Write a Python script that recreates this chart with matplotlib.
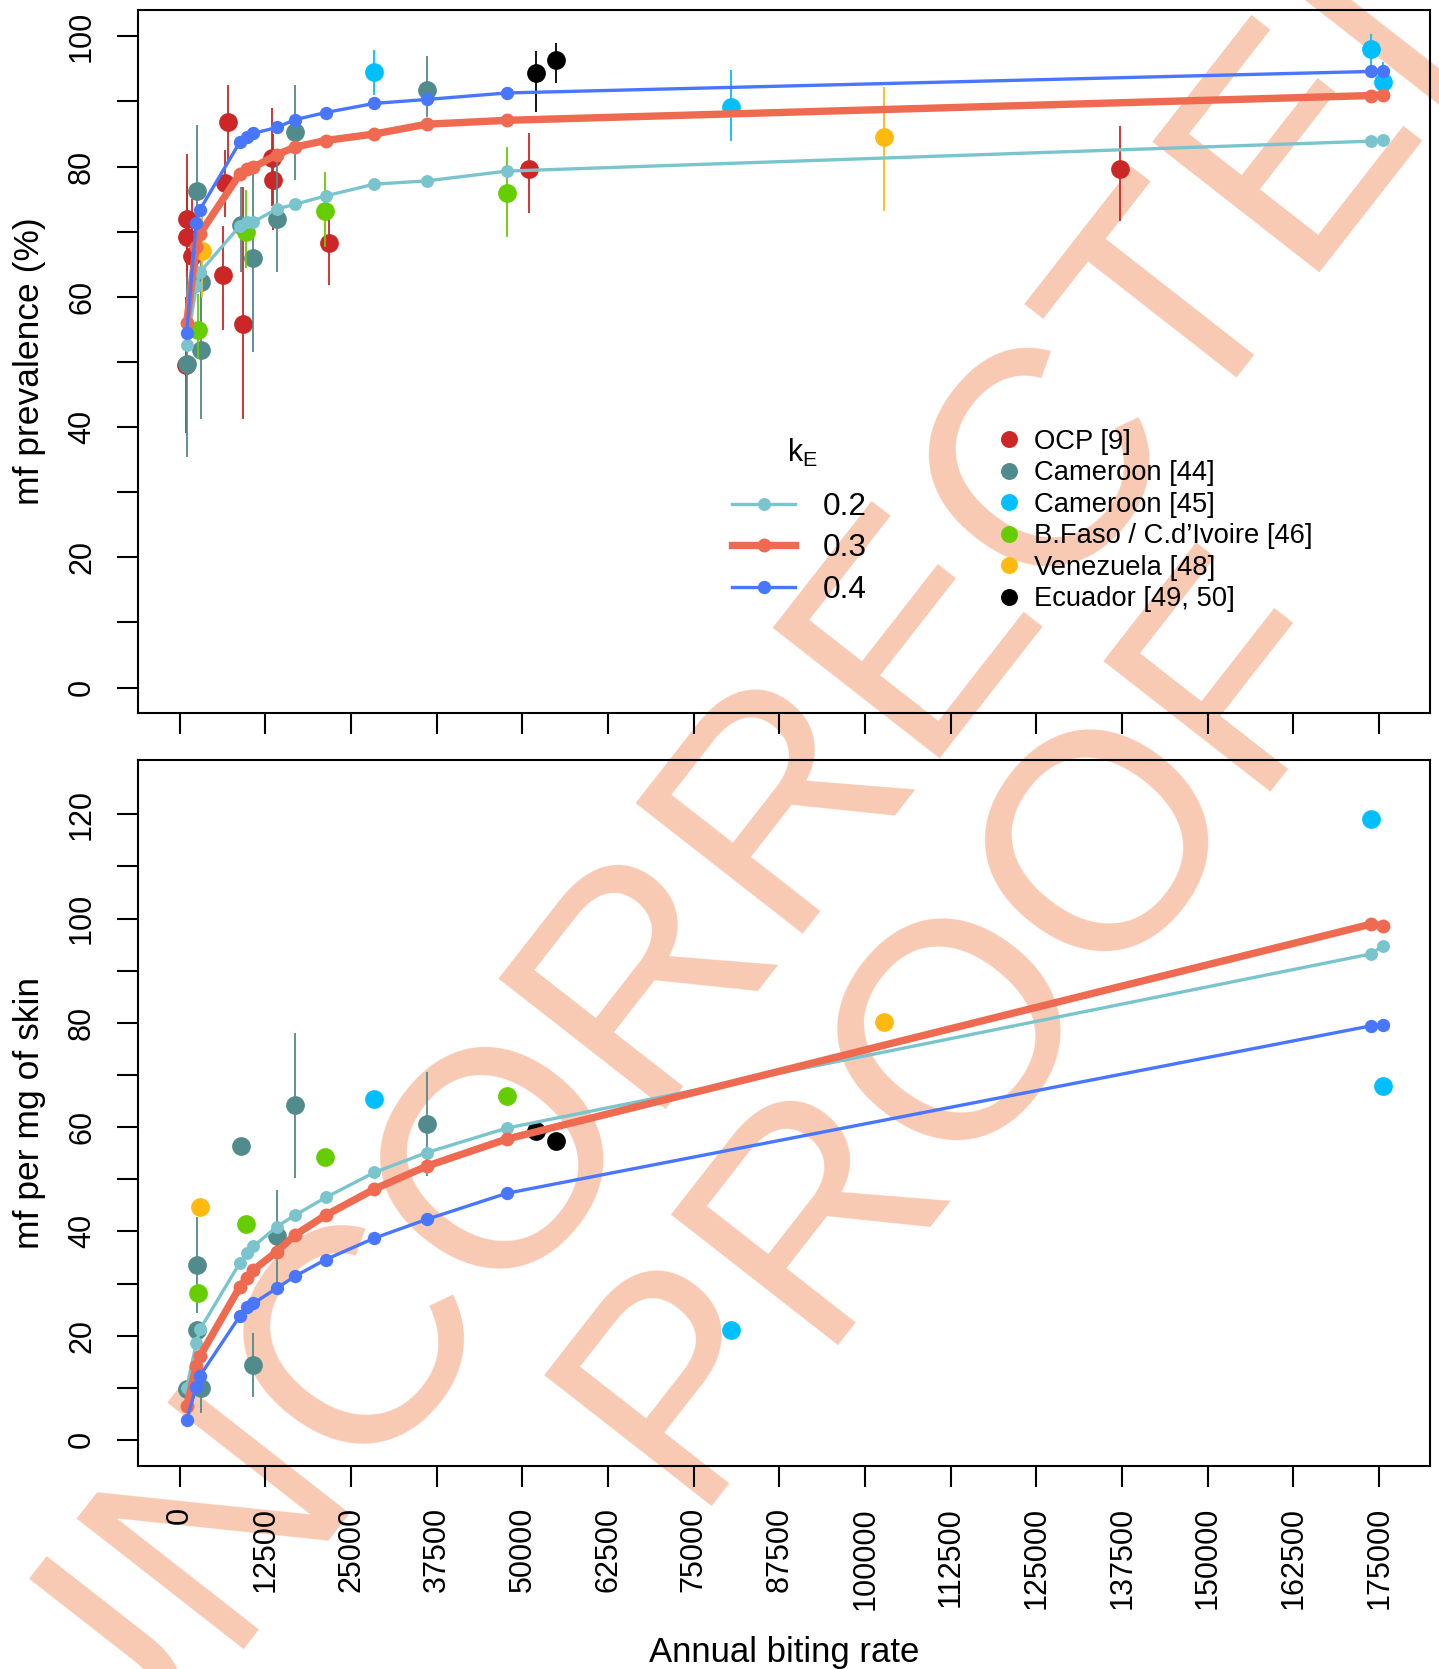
import numpy as np
import matplotlib
matplotlib.use('Agg')
import matplotlib.pyplot as plt
from matplotlib.lines import Line2D

plt.rcParams['font.family'] = ['Liberation Sans', 'DejaVu Sans']

# model predictions, evaluated at the same ABR grid for each k_E
abr_model = [1000, 2400, 2950, 8780, 9800, 10750, 14140, 16810, 21290,
             28380, 36020, 47700, 173750, 175500]
prev_k02 = [52.6, 61.6, 63.8, 70.9, 71.5, 71.5, 73.5, 74.2, 75.5, 77.3, 77.8, 79.3, 83.9, 84.1]
prev_k03 = [56.0, 67.7, 69.7, 78.9, 79.6, 79.9, 81.8, 83.0, 84.0, 85.0, 86.5, 87.1, 90.9, 91.0]
prev_k04 = [54.5, 71.3, 73.4, 83.8, 84.5, 85.1, 86.0, 87.2, 88.3, 89.7, 90.3, 91.3, 94.6, 94.6]
mf_k02 = [9.9, 18.5, 21.2, 34.0, 35.8, 37.1, 40.9, 43.1, 46.5, 51.3, 55.1, 59.8, 93.2, 94.7]
mf_k03 = [6.5, 14.1, 16.1, 29.4, 31.0, 32.6, 36.1, 39.3, 43.1, 48.1, 52.5, 57.7, 98.9, 98.6]
mf_k04 = [3.8, 10.2, 12.3, 23.8, 25.4, 26.2, 29.1, 31.4, 34.6, 38.7, 42.3, 47.3, 79.4, 79.6]
k_labels = ['0.2', '0.3', '0.4']

# observed data: OCP [9] (prevalence only)
ocp_abr = [1000, 1000, 1740, 900, 6260, 6600, 7080, 9180, 13410, 13550, 21720, 50930, 137120]
ocp_prev = [72.0, 69.2, 66.3, 49.6, 63.3, 77.5, 86.9, 55.8, 81.3, 78.0, 68.2, 79.7, 79.7]
ocp_lo = [64.0, 61.0, 58.0, 39.1, 54.9, 72.3, 81.0, 41.3, 74.0, 70.2, 61.8, 72.9, 71.7]
ocp_hi = [82.0, 77.0, 75.0, 60.0, 70.8, 82.5, 92.5, 76.9, 89.0, 85.0, 74.3, 85.2, 86.3]

# Cameroon [44]
cam44_abr = [1000, 2470, 3050, 3050, 8930, 10720, 14140, 16810, 36020]
cam44_prev = [49.7, 76.2, 51.9, 62.3, 71.1, 66.0, 71.9, 85.3, 91.7]
cam44_lo = [35.4, 62.6, 41.3, 56.0, 63.8, 51.6, 63.8, 78.0, 87.6]
cam44_hi = [63.0, 86.4, 64.6, 68.0, 76.9, 78.9, 81.5, 92.5, 96.9]
cam44_abr_mf = [1000, 2470, 2470, 3050, 8930, 10720, 14140, 16810, 36020]
cam44_mf = [9.7, 33.6, 21.1, 10.0, 56.4, 14.4, 39.1, 64.2, 60.6]
cam44_mf_lo = [np.nan, 24.3, np.nan, 5.2, np.nan, 8.3, 29.4, 50.3, 50.6]
cam44_mf_hi = [np.nan, 42.8, np.nan, 14.8, np.nan, 20.5, 47.9, 78.1, 70.6]

# Cameroon [45]
cam45_abr = [28380, 80450, 173750, 175500]
cam45_prev = [94.5, 89.2, 98.1, 93.0]
cam45_lo = [91.0, 84.0, 95.6, 89.9]
cam45_hi = [97.9, 94.8, 100.3, 96.1]
cam45_mf = [65.3, 21.0, 119.0, 67.8]

# B.Faso / C.d'Ivoire [46]
bf_abr = [2700, 9660, 21230, 47790]
bf_prev = [54.9, 70.0, 73.2, 76.0]
bf_lo = [50.5, 64.4, 67.7, 69.2]
bf_hi = [60.5, 76.4, 79.2, 83.0]
bf_mf = [28.1, 41.5, 54.3, 66.0]

# Venezuela [48]
ven_abr = [3190, 102800]
ven_prev = [67.1, 84.6]
ven_lo = [60.0, 73.2]
ven_hi = [73.0, 92.2]
ven_abr_mf = [2950, 102800]
ven_mf = [44.6, 80.2]

# Ecuador [49, 50]
ecu_abr = [51920, 54840]
ecu_prev = [94.3, 96.3]
ecu_lo = [88.4, 92.8]
ecu_hi = [97.8, 98.9]
ecu_mf = [59.3, 57.4]

study_names = ['OCP [9]', 'Cameroon [44]', 'Cameroon [45]',
               'B.Faso / C.d\u2019Ivoire [46]', 'Venezuela [48]', 'Ecuador [49, 50]']
study_cols = ['#CD2626', '#528B8B', '#00BFFF', '#66CD00', '#FFB90F', '#000000']
model_cols = ['#7AC5CD', '#EE6A50', '#4876FF']
model_lw = [2.4, 5.3, 2.4]
model_ms = [9.3, 10.0, 9.6]

W, H = 1439, 1669


def draw_obs(ax, x, y, lo, hi, color):
    x = np.asarray(x, float)
    y = np.asarray(y, float)
    if lo is not None:
        lo = np.asarray(lo, float)
        hi = np.asarray(hi, float)
        m = ~np.isnan(lo)
        ax.vlines(x[m], lo[m], hi[m], color=color, lw=1.3, zorder=2)
    ax.plot(x, y, 'o', color=color, ms=13.5, mec='none', zorder=2)


def style_axis(ax, ymax_tick):
    ax.set_facecolor('none')
    for s in ax.spines.values():
        s.set_linewidth(1.5)
    ax.set_xlim(-6100, 182420)
    ax.set_xticks(np.arange(0, 175001, 12500))
    ax.set_yticks(np.arange(0, ymax_tick + 1, 20))
    ax.set_yticks(np.arange(10, ymax_tick, 20), minor=True)
    ax.tick_params(axis='both', which='both', direction='out', length=15,
                   width=1.5, labelsize=22, pad=14.5)
    for lbl in ax.get_yticklabels():
        lbl.set_rotation(90)
        lbl.set_va('center')


fig = plt.figure(figsize=(W / 100, H / 100), dpi=100)
ax1 = fig.add_axes([138 / W, 1 - 713 / H, 1292 / W, 703.4 / H])
ax2 = fig.add_axes([138 / W, 1 - 1466 / H, 1292 / W, 706 / H])

# watermark behind everything
wm = dict(rotation=52, rotation_mode='anchor', ha='center', va='baseline',
          fontsize=222, color='#F8CAB4', zorder=-1, family='Liberation Sans')
fig.text(821 / W, 1 - 880 / H, 'UNCORRECTED', **wm)
fig.text(1025 / W, 1 - 1074 / H, 'PROOF', **wm)

# top: prevalence
draw_obs(ax1, ocp_abr, ocp_prev, ocp_lo, ocp_hi, study_cols[0])
draw_obs(ax1, cam44_abr, cam44_prev, cam44_lo, cam44_hi, study_cols[1])
draw_obs(ax1, cam45_abr, cam45_prev, cam45_lo, cam45_hi, study_cols[2])
draw_obs(ax1, bf_abr, bf_prev, bf_lo, bf_hi, study_cols[3])
draw_obs(ax1, ven_abr, ven_prev, ven_lo, ven_hi, study_cols[4])
draw_obs(ax1, ecu_abr, ecu_prev, ecu_lo, ecu_hi, study_cols[5])
for yv, c, lw, ms in zip([prev_k02, prev_k03, prev_k04], model_cols, model_lw, model_ms):
    ax1.plot(abr_model, yv, '-o', color=c, lw=lw, ms=ms, mec='none', zorder=4)

# bottom: mf intensity
draw_obs(ax2, cam44_abr_mf, cam44_mf, cam44_mf_lo, cam44_mf_hi, study_cols[1])
draw_obs(ax2, cam45_abr, cam45_mf, None, None, study_cols[2])
draw_obs(ax2, bf_abr, bf_mf, None, None, study_cols[3])
draw_obs(ax2, ven_abr_mf, ven_mf, None, None, study_cols[4])
draw_obs(ax2, ecu_abr, ecu_mf, None, None, study_cols[5])
for yv, c, lw, ms in zip([mf_k02, mf_k03, mf_k04], model_cols, model_lw, model_ms):
    ax2.plot(abr_model, yv, '-o', color=c, lw=lw, ms=ms, mec='none', zorder=4)

style_axis(ax1, 100)
style_axis(ax2, 120)
ax1.set_ylim(-3.9, 104.1)
ax2.set_ylim(-5.0, 130.4)
ax1.tick_params(axis='x', labelbottom=False)
ax2.set_xticklabels([str(v) for v in np.arange(0, 175001, 12500)], rotation=90)

ax1.set_ylabel('mf prevalence (%)', fontsize=25.5)
ax2.set_ylabel('mf per mg of skin', fontsize=25.5)
ax1.yaxis.set_label_coords(-0.0712, 0.5)
ax2.yaxis.set_label_coords(-0.0712, 0.5)
ax2.set_xlabel('Annual biting rate', fontsize=25)
ax2.xaxis.set_label_coords(0.5, -0.2772)
ax2.xaxis.label.set_va('baseline')

# legends
model_handles = [Line2D([], [], color=c, lw=lw, marker='o', ms=ms, mec='none')
                 for c, lw, ms in zip(model_cols, model_lw, model_ms)]
leg1 = ax1.legend(model_handles, k_labels, loc='upper left',
                  bbox_to_anchor=(732 / W, 1 - 492 / H), bbox_transform=fig.transFigure,
                  frameon=False, fontsize=22.7, handlelength=2.0, handletextpad=0.88,
                  labelspacing=0.36, borderpad=0, borderaxespad=0)
ax1.add_artist(leg1)
fig.text(802 / W, 1 - 462 / H, r'$\mathregular{k_E}$', ha='center', va='baseline', fontsize=22)

obs_handles = [Line2D([], [], ls='none', marker='o', ms=12.2, color=c, mec='none')
               for c in study_cols]
ax1.legend(obs_handles, study_names, loc='upper left',
           bbox_to_anchor=(995 / W, 1 - 429 / H), bbox_transform=fig.transFigure,
           frameon=False, fontsize=19.7, handlelength=1.0, handletextpad=0.44,
           labelspacing=0.2, borderpad=0, borderaxespad=0)

fig.savefig('out.png', dpi=100, facecolor='white')
